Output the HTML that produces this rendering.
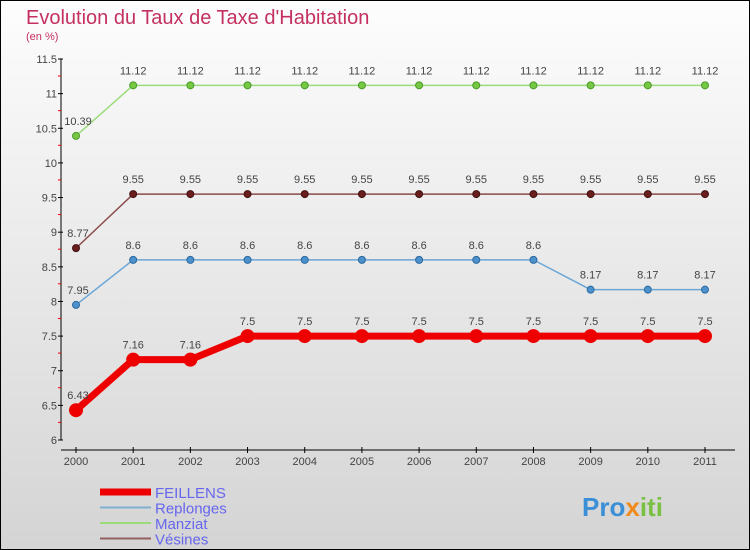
<!DOCTYPE html>
<html><head><meta charset="utf-8"><style>
body{margin:0}
svg{display:block;font-family:"Liberation Sans",sans-serif}
</style></head><body>
<svg width="750" height="550" viewBox="0 0 750 550">
<defs><linearGradient id="bg" x1="0" y1="0" x2="0" y2="1"><stop offset="0" stop-color="#fdfdfd"/><stop offset="1" stop-color="#d4d4d4"/></linearGradient></defs>
<rect x="0.5" y="0.5" width="749" height="549" fill="url(#bg)" stroke="#000"/>
<text x="26" y="24" font-size="20" fill="#c4305f">Evolution du Taux de Taxe d'Habitation</text>
<text x="26" y="40" font-size="11" fill="#c4305f">(en %)</text>
<g id="axes"></g><g id="series"></g>
<g id="legend"></g>
<text x="582" y="516" font-size="26" font-weight="bold"><tspan fill="#3a8fd6">Pro</tspan><tspan fill="#f08a1c">x</tspan><tspan fill="#7ac143">iti</tspan></text>
</svg>
<script>
const years=["2000","2001","2002","2003","2004","2005","2006","2007","2008","2009","2010","2011"];
const feillens=[6.43,7.16,7.16,7.5,7.5,7.5,7.5,7.5,7.5,7.5,7.5,7.5];
const replonges=[7.95,8.6,8.6,8.6,8.6,8.6,8.6,8.6,8.6,8.17,8.17,8.17];
const manziat=[10.39,11.12,11.12,11.12,11.12,11.12,11.12,11.12,11.12,11.12,11.12,11.12];
const vesines=[8.77,9.55,9.55,9.55,9.55,9.55,9.55,9.55,9.55,9.55,9.55,9.55];
const yTicks=[6,6.5,7,7.5,8,8.5,9,9.5,10,10.5,11,11.5];
const NS="http://www.w3.org/2000/svg";
const X=i=>76+i*629/11, Y=v=>440-(v-6)*(381/5.5);
function mk(t,a,p){const e=document.createElementNS(NS,t);for(const k in a)e.setAttribute(k,a[k]);p.appendChild(e);return e;}
const ax=document.getElementById('axes');
let l=mk('line',{x1:61,y1:59,x2:61,y2:440,stroke:'#000','stroke-width':1},ax);


l=mk('line',{x1:61,y1:450,x2:735,y2:450,stroke:'#000','stroke-width':1},ax);


yTicks.forEach((v,k)=>{const y=Y(v);mk('line',{x1:58,y1:y,x2:63,y2:y,stroke:'#000'},ax);
 if(k>0) mk('line',{x1:58,y1:y+17,x2:61,y2:y+17,stroke:'#e00'},ax);
 const t=mk('text',{x:57,y:y+4,'font-size':11,fill:'#444','text-anchor':'end'},ax);t.textContent=v;
 
 });
years.forEach((yr,i)=>{const x=X(i);mk('line',{x1:x,y1:447,x2:x,y2:453,stroke:'#000'},ax);
 const t=mk('text',{x:x,y:465,'font-size':11,fill:'#444','text-anchor':'middle'},ax);t.textContent=yr;
 
 });
const sg=document.getElementById('series');
function series(name,data,color,w,r,dot,dotStroke){
 const g=mk('g',{},sg);
 
 
 mk('polyline',{points:data.map((v,i)=>X(i)+','+Y(v)).join(' '),fill:'none',stroke:color,'stroke-width':w,'stroke-linejoin':'round'},g);
 data.forEach((v,i)=>{const c=mk('circle',{cx:X(i),cy:Y(v),r:r,fill:dot,stroke:dotStroke,'stroke-width':1},g);
  
  
  const t=mk('text',{x:X(i)+(i==0?2:0),y:Y(v)-11,'font-size':11,fill:'#444','text-anchor':'middle'},g);t.textContent=v;
  
  });
}
series('manziat',manziat,'#9bdc7a',1.5,3.5,'#76c843','#4a9a2a');
series('vesines',vesines,'#8a4a4a',1.5,3.5,'#6a1d1d','#401010');
series('replonges',replonges,'#6aa6d6',1.5,3.5,'#4c90cc','#2a6aa0');
series('feillens',feillens,'#ee0000',7,6.5,'#ee0000','#ee0000');
const lg=document.getElementById('legend');
const leg=[['FEILLENS','#ee0000',7],['Replonges','#7fb0d2',2],['Manziat','#9bdc7a',2],['Vésines','#926060',2]];
leg.forEach((d,i)=>{const y=492+i*15.5;
 const g=mk('g',{},lg);
 
 
 mk('line',{x1:100,y1:y,x2:151,y2:y,stroke:d[1],'stroke-width':d[2]},g);
 const t=mk('text',{x:155,y:y+6,'font-size':15,fill:'#6666ee'},g);t.textContent=d[0];});
</script>
</body></html>
